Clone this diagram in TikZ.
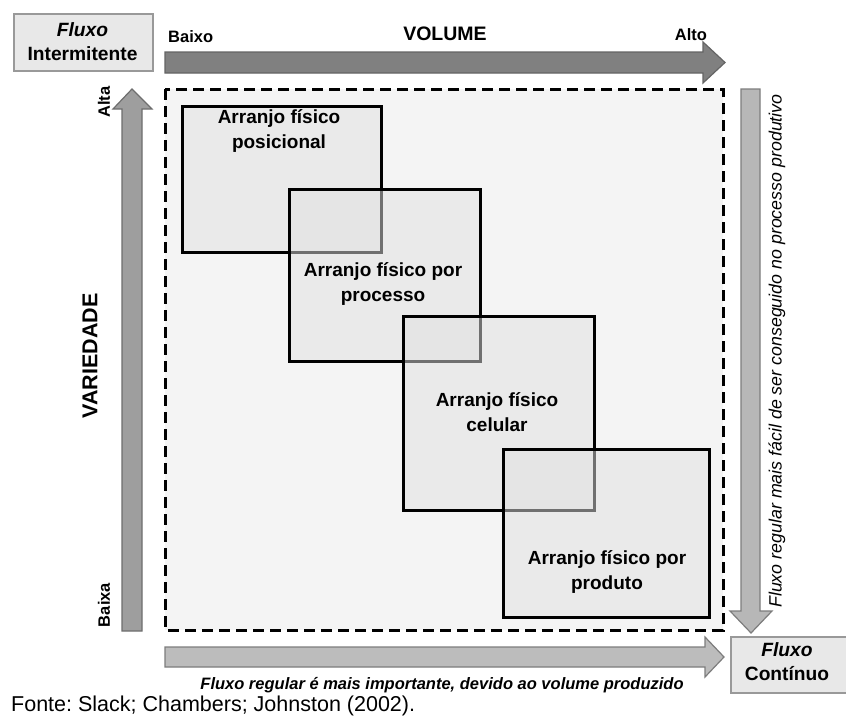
\documentclass[tikz,border=0pt]{standalone}
\usepackage{fontspec}
\setmainfont{Liberation Sans}
\frenchspacing
\begin{document}
\begin{tikzpicture}[x=1pt,y=-1pt,
  lbl/.style={inner sep=0pt,font=\bfseries\fontsize{19.2}{24}\selectfont,align=center},
  small/.style={inner sep=0pt,font=\bfseries\fontsize{16.5}{18}\selectfont},
  flowbox/.style={draw=gray!80,line width=1.5pt,fill=gray!18,inner sep=0pt,anchor=north west},
  layout/.style={draw=black,line width=2.6pt,fill={rgb,255:red,225;green,225;blue,225},fill opacity=0.5,inner sep=0pt,anchor=north west},
  layouttext/.style={inner sep=0pt,font=\bfseries\fontsize{19}{25}\selectfont,align=center,text=black}
]
\useasboundingbox (0,0) rectangle (846,720);
\fill[white] (0,0) rectangle (846,720);

% dashed field
\draw[line width=3pt,dash pattern=on 11pt off 6pt,fill={rgb,255:red,244;green,244;blue,244}]
  (165,89) rectangle (723,630);

% volume arrow (top)
\draw[line width=1.2pt,draw={rgb,255:red,100;green,100;blue,100},fill={rgb,255:red,128;green,128;blue,128}]
  (165,52) -- (703,52) -- (703,42) -- (725,62.5) -- (703,83) -- (703,73) -- (165,73) -- cycle;
% variety arrow (left)
\draw[line width=1.2pt,draw={rgb,255:red,110;green,110;blue,110},fill={rgb,255:red,158;green,158;blue,158}]
  (122,631) -- (122,109) -- (113,109) -- (132,89) -- (152,109) -- (142,109) -- (142,631) -- cycle;
% regular flow arrow (right)
\draw[line width=1.2pt,draw={rgb,255:red,125;green,125;blue,125},fill={rgb,255:red,183;green,183;blue,183}]
  (741,89) -- (741,611) -- (730,611) -- (751,633) -- (772,611) -- (760,611) -- (760,89) -- cycle;
% regular flow arrow (bottom)
\draw[line width=1.2pt,draw={rgb,255:red,125;green,125;blue,125},fill={rgb,255:red,188;green,188;blue,188}]
  (165,647) -- (705,647) -- (705,637) -- (724,657) -- (705,677) -- (705,667) -- (165,667) -- cycle;

% flow boxes
\node[flowbox,minimum width=139pt,minimum height=57pt] (fi) at (13,13) {};
\node[lbl,align=center] (fit) at (82.5,41.5) {\textit{Fluxo}\\Intermitente};
\node[flowbox,minimum width=116pt,minimum height=56pt] (fc) at (730,636) {};
\node[lbl,align=center] (fct) at (787,662) {\textit{Fluxo}\\Contínuo};

% axis labels
\node[small,anchor=west] (baixo) at (168,37) {Baixo};
\node[lbl,font=\bfseries\fontsize{19.5}{22}\selectfont] (vol) at (445,34) {VOLUME};
\node[small] (alto) at (691,35) {Alto};
\node[small,rotate=90] (alta) at (104,102) {Alta};
\node[small,rotate=90] (baixa) at (104,605) {Baixa};
\node[lbl,rotate=90,font=\bfseries\fontsize{21.5}{22}\selectfont] (var) at (90,356) {VARIEDADE};
\node[inner sep=0pt,rotate=90,font=\itshape\fontsize{17.8}{20}\selectfont] (rt) at (777,351)
  {Fluxo regular mais fácil de ser conseguido no processo produtivo};
\node[inner sep=0pt,font=\bfseries\itshape\fontsize{16.5}{18}\selectfont] (bt) at (442,685)
  {Fluxo regular é mais importante, devido ao volume produzido};

% layout boxes
\node[layout,minimum width=199pt,minimum height=146pt] (b1) at (181,105) {};
\node[layouttext] (t1) at (279,131) {Arranjo físico\\posicional};
\node[layout,minimum width=191pt,minimum height=172pt] (b2) at (288,188) {};
\node[layouttext] (t2) at (383,284) {Arranjo físico por\\processo};
\node[layout,minimum width=191pt,minimum height=194pt] (b3) at (402,315) {};
\node[layouttext] (t3) at (497,412) {Arranjo físico\\celular};
\node[layout,minimum width=206pt,minimum height=168pt] (b4) at (502,448) {};
\node[layouttext] (t4) at (607,572) {Arranjo físico por\\produto};

% source line
\node[inner sep=0pt,anchor=west,font=\fontsize{21.5}{24}\selectfont] (src) at (11,706)
  {Fonte: Slack; Chambers; Johnston (2002).};
\end{tikzpicture}
\end{document}
